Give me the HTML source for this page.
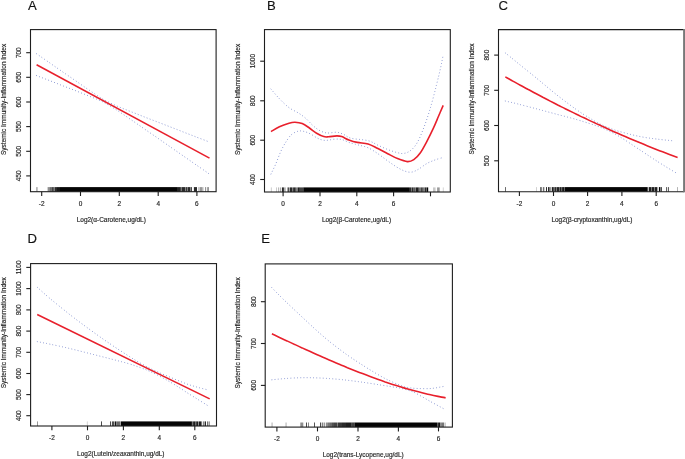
<!DOCTYPE html>
<html><head><meta charset="utf-8"><title>Chart</title>
<style>
html,body{margin:0;padding:0;background:#fff;}
body{width:685px;height:459px;overflow:hidden;}
svg{display:block;font-family:"Liberation Sans",sans-serif;}
text{stroke:#2a2a2a;stroke-width:0.18px;}
</style></head><body>
<svg width="685" height="459" viewBox="0 0 685 459">
<rect width="685" height="459" fill="#fff"/>
<g opacity="0.999">
<rect x="36.6" y="187.1" width="0.7" height="4.6" fill="#050505" fill-opacity="0.75"/>
<rect x="47.6" y="187.1" width="1.9" height="4.6" fill="#050505" fill-opacity="0.45"/>
<rect x="49.5" y="187.1" width="2.0" height="4.6" fill="#050505" fill-opacity="0.6"/>
<rect x="51.5" y="187.1" width="2.3" height="4.6" fill="#050505" fill-opacity="0.75"/>
<rect x="53.8" y="187.1" width="0.8" height="4.6" fill="#050505" fill-opacity="0.45"/>
<rect x="54.6" y="187.1" width="2.4" height="4.6" fill="#050505" fill-opacity="0.85"/>
<rect x="57.0" y="187.1" width="3.0" height="4.6" fill="#050505" fill-opacity="0.93"/>
<rect x="60.0" y="187.1" width="117.0" height="4.6" fill="#050505" fill-opacity="1"/>
<rect x="177.0" y="187.1" width="3.8" height="4.6" fill="#050505" fill-opacity="0.88"/>
<rect x="180.8" y="187.1" width="1.0" height="4.6" fill="#050505" fill-opacity="0.55"/>
<rect x="181.8" y="187.1" width="3.4" height="4.6" fill="#050505" fill-opacity="0.85"/>
<rect x="185.2" y="187.1" width="0.6" height="4.6" fill="#050505" fill-opacity="0.45"/>
<rect x="185.8" y="187.1" width="1.5" height="4.6" fill="#050505" fill-opacity="0.8"/>
<rect x="187.3" y="187.1" width="0.5" height="4.6" fill="#050505" fill-opacity="0.45"/>
<rect x="187.8" y="187.1" width="2.5" height="4.6" fill="#050505" fill-opacity="0.85"/>
<rect x="190.3" y="187.1" width="0.6" height="4.6" fill="#050505" fill-opacity="0.4"/>
<rect x="190.9" y="187.1" width="1.0" height="4.6" fill="#050505" fill-opacity="0.8"/>
<rect x="193.9" y="187.1" width="3.1" height="4.6" fill="#050505" fill-opacity="0.85"/>
<rect x="198.7" y="187.1" width="0.6" height="4.6" fill="#050505" fill-opacity="0.7"/>
<rect x="200.0" y="187.1" width="0.6" height="4.6" fill="#050505" fill-opacity="0.7"/>
<rect x="201.3" y="187.1" width="0.6" height="4.6" fill="#050505" fill-opacity="0.7"/>
<rect x="202.6" y="187.1" width="0.6" height="4.6" fill="#050505" fill-opacity="0.7"/>
<rect x="205.4" y="187.1" width="0.6" height="4.6" fill="#050505" fill-opacity="0.7"/>
<rect x="206.9" y="187.1" width="0.6" height="4.6" fill="#050505" fill-opacity="0.7"/>
<rect x="208.1" y="187.1" width="0.6" height="4.6" fill="#050505" fill-opacity="0.7"/>
<path d="M36.6,53.8 C38.8,55.3 45.4,59.9 49.9,63.0 C54.3,66.1 58.7,69.1 63.1,72.2 C67.5,75.2 72.0,78.3 76.4,81.3 C80.8,84.4 85.2,87.5 89.6,90.4 C94.1,93.4 98.5,96.6 102.9,99.1 C107.3,101.6 111.7,103.7 116.2,105.7 C120.6,107.7 125.0,109.3 129.4,111.1 C133.9,112.8 138.3,114.5 142.7,116.3 C147.1,118.0 151.5,119.7 156.0,121.4 C160.4,123.1 164.8,124.8 169.2,126.5 C173.6,128.2 178.1,129.9 182.5,131.7 C186.9,133.4 191.3,135.1 195.7,136.8 C200.2,138.5 206.8,141.0 209.0,141.9" fill="none" stroke="#5064bc" stroke-width="1.0" stroke-opacity="0.8" stroke-dasharray="0.01 3.2" stroke-linecap="round"/>
<path d="M36.6,75.6 C38.8,76.5 45.4,79.0 49.9,80.7 C54.3,82.4 58.7,84.2 63.1,85.9 C67.5,87.6 72.0,89.3 76.4,91.0 C80.8,92.8 85.2,94.5 89.6,96.3 C94.1,98.1 98.5,99.7 102.9,101.9 C107.3,104.2 111.7,106.9 116.2,109.7 C120.6,112.5 125.0,115.6 129.4,118.6 C133.9,121.6 138.3,124.7 142.7,127.8 C147.1,130.8 151.5,133.9 156.0,136.9 C160.4,140.0 164.8,143.1 169.2,146.1 C173.6,149.2 178.1,152.3 182.5,155.4 C186.9,158.4 191.3,161.5 195.7,164.6 C200.2,167.6 206.8,172.2 209.0,173.8" fill="none" stroke="#5064bc" stroke-width="1.0" stroke-opacity="0.8" stroke-dasharray="0.01 3.2" stroke-linecap="round"/>
<path d="M36.6,64.7 L209.5,158.1" fill="none" stroke="#e8202c" stroke-width="1.6" stroke-linecap="butt"/>
<rect x="30.5" y="29.6" width="185.6" height="162.1" fill="none" stroke="#1e1e1e" stroke-width="1.1"/>
<line x1="26.2" y1="52.7" x2="30.5" y2="52.7" stroke="#1e1e1e" stroke-width="1.1"/>
<text transform="translate(20.9,52.7) rotate(-90)" text-anchor="middle" font-size="6.45" fill="#2a2a2a">700</text>
<line x1="26.2" y1="77.3" x2="30.5" y2="77.3" stroke="#1e1e1e" stroke-width="1.1"/>
<text transform="translate(20.9,77.3) rotate(-90)" text-anchor="middle" font-size="6.45" fill="#2a2a2a">650</text>
<line x1="26.2" y1="102" x2="30.5" y2="102" stroke="#1e1e1e" stroke-width="1.1"/>
<text transform="translate(20.9,102) rotate(-90)" text-anchor="middle" font-size="6.45" fill="#2a2a2a">600</text>
<line x1="26.2" y1="126.6" x2="30.5" y2="126.6" stroke="#1e1e1e" stroke-width="1.1"/>
<text transform="translate(20.9,126.6) rotate(-90)" text-anchor="middle" font-size="6.45" fill="#2a2a2a">550</text>
<line x1="26.2" y1="151.3" x2="30.5" y2="151.3" stroke="#1e1e1e" stroke-width="1.1"/>
<text transform="translate(20.9,151.3) rotate(-90)" text-anchor="middle" font-size="6.45" fill="#2a2a2a">500</text>
<line x1="26.2" y1="175.9" x2="30.5" y2="175.9" stroke="#1e1e1e" stroke-width="1.1"/>
<text transform="translate(20.9,175.9) rotate(-90)" text-anchor="middle" font-size="6.45" fill="#2a2a2a">450</text>
<line x1="41.7" y1="191.7" x2="41.7" y2="196.0" stroke="#1e1e1e" stroke-width="1.1"/>
<text x="41.7" y="205.8" text-anchor="middle" font-size="6.45" fill="#2a2a2a">-2</text>
<line x1="80.5" y1="191.7" x2="80.5" y2="196.0" stroke="#1e1e1e" stroke-width="1.1"/>
<text x="80.5" y="205.8" text-anchor="middle" font-size="6.45" fill="#2a2a2a">0</text>
<line x1="119.3" y1="191.7" x2="119.3" y2="196.0" stroke="#1e1e1e" stroke-width="1.1"/>
<text x="119.3" y="205.8" text-anchor="middle" font-size="6.45" fill="#2a2a2a">2</text>
<line x1="158.2" y1="191.7" x2="158.2" y2="196.0" stroke="#1e1e1e" stroke-width="1.1"/>
<text x="158.2" y="205.8" text-anchor="middle" font-size="6.45" fill="#2a2a2a">4</text>
<line x1="196.9" y1="191.7" x2="196.9" y2="196.0" stroke="#1e1e1e" stroke-width="1.1"/>
<text x="196.9" y="205.8" text-anchor="middle" font-size="6.45" fill="#2a2a2a">6</text>
<text x="111.3" y="221.6" text-anchor="middle" font-size="6.47" fill="#2a2a2a">Log2(α-Carotene,ug/dL)</text>
<text transform="translate(5.5,99.4) rotate(-90)" text-anchor="middle" font-size="6.47" fill="#2a2a2a">Systemic Immunity-Inflammation Index</text>
<text x="28.0" y="10.1" font-size="13.1" fill="#111" stroke="none">A</text>
<rect x="270.9" y="187.4" width="0.6" height="4.6" fill="#050505" fill-opacity="0.35"/>
<rect x="276.0" y="187.4" width="0.6" height="4.6" fill="#050505" fill-opacity="0.35"/>
<rect x="278.5" y="187.4" width="0.6" height="4.6" fill="#050505" fill-opacity="0.55"/>
<rect x="280.0" y="187.4" width="0.6" height="4.6" fill="#050505" fill-opacity="0.55"/>
<rect x="281.9" y="187.4" width="2.0" height="4.6" fill="#050505" fill-opacity="0.85"/>
<rect x="284.4" y="187.4" width="1.1" height="4.6" fill="#050505" fill-opacity="0.5"/>
<rect x="287.5" y="187.4" width="2.0" height="4.6" fill="#050505" fill-opacity="0.7"/>
<rect x="290.0" y="187.4" width="2.6" height="4.6" fill="#050505" fill-opacity="0.85"/>
<rect x="293.1" y="187.4" width="2.6" height="4.6" fill="#050505" fill-opacity="0.85"/>
<rect x="295.7" y="187.4" width="2.0" height="4.6" fill="#050505" fill-opacity="0.5"/>
<rect x="297.7" y="187.4" width="2.1" height="4.6" fill="#050505" fill-opacity="0.9"/>
<rect x="299.8" y="187.4" width="3.5" height="4.6" fill="#050505" fill-opacity="0.75"/>
<rect x="303.3" y="187.4" width="105.7" height="4.6" fill="#050505" fill-opacity="1"/>
<rect x="409.0" y="187.4" width="2.0" height="4.6" fill="#050505" fill-opacity="0.85"/>
<rect x="411.0" y="187.4" width="0.6" height="4.6" fill="#050505" fill-opacity="0.5"/>
<rect x="411.6" y="187.4" width="2.0" height="4.6" fill="#050505" fill-opacity="0.85"/>
<rect x="413.6" y="187.4" width="0.6" height="4.6" fill="#050505" fill-opacity="0.5"/>
<rect x="414.2" y="187.4" width="0.8" height="4.6" fill="#050505" fill-opacity="0.8"/>
<rect x="415.0" y="187.4" width="0.7" height="4.6" fill="#050505" fill-opacity="0.5"/>
<rect x="415.7" y="187.4" width="3.0" height="4.6" fill="#050505" fill-opacity="0.9"/>
<rect x="418.7" y="187.4" width="2.1" height="4.6" fill="#050505" fill-opacity="0.55"/>
<rect x="420.8" y="187.4" width="2.0" height="4.6" fill="#050505" fill-opacity="0.75"/>
<rect x="422.8" y="187.4" width="0.6" height="4.6" fill="#050505" fill-opacity="0.5"/>
<rect x="423.4" y="187.4" width="0.9" height="4.6" fill="#050505" fill-opacity="0.7"/>
<rect x="424.3" y="187.4" width="0.6" height="4.6" fill="#050505" fill-opacity="0.5"/>
<rect x="424.9" y="187.4" width="1.7" height="4.6" fill="#050505" fill-opacity="0.85"/>
<rect x="426.8" y="187.4" width="1.4" height="4.6" fill="#050505" fill-opacity="1"/>
<rect x="433.0" y="187.4" width="2.6" height="4.6" fill="#050505" fill-opacity="0.22"/>
<rect x="437.1" y="187.4" width="2.6" height="4.6" fill="#050505" fill-opacity="0.4"/>
<rect x="442.8" y="187.4" width="0.9" height="4.6" fill="#050505" fill-opacity="0.2"/>
<path d="M271.0,89.1 C272.4,90.7 276.4,95.6 279.4,98.7 C282.4,101.8 285.8,105.2 289.0,107.6 C292.2,110.0 295.8,111.3 298.6,113.1 C301.4,114.9 303.4,116.3 305.8,118.4 C308.2,120.5 310.6,123.5 313.0,125.6 C315.4,127.7 317.8,129.6 320.2,130.8 C322.6,132.0 324.6,132.8 327.4,133.0 C330.2,133.2 334.2,132.0 337.0,132.3 C339.8,132.6 341.7,133.7 344.1,134.7 C346.5,135.7 347.3,137.3 351.3,138.3 C355.3,139.3 363.7,139.5 368.1,140.7 C372.5,141.8 374.6,143.7 377.9,145.2 C381.2,146.7 384.4,148.2 387.7,149.5 C391.0,150.8 394.8,152.0 397.5,152.7 C400.2,153.3 401.8,153.8 404.0,153.4 C406.2,153.0 408.4,152.2 410.6,150.5 C412.8,148.8 414.9,146.6 417.1,142.9 C419.3,139.2 421.4,133.9 423.6,128.2 C425.8,122.5 428.0,115.9 430.2,108.6 C432.4,101.2 435.0,90.9 436.7,84.1 C438.4,77.3 439.5,72.7 440.6,67.8 C441.7,62.9 442.8,56.9 443.2,54.7" fill="none" stroke="#5064bc" stroke-width="1.0" stroke-opacity="0.8" stroke-dasharray="0.01 3.2" stroke-linecap="round"/>
<path d="M271.0,174.0 C271.8,172.3 274.2,167.6 275.8,163.9 C277.4,160.2 279.0,155.4 280.6,151.9 C282.2,148.4 283.6,145.7 285.4,142.8 C287.2,139.9 289.2,136.6 291.4,134.7 C293.6,132.8 296.4,131.6 298.6,131.1 C300.8,130.6 302.6,131.1 304.6,131.6 C306.6,132.1 308.4,132.9 310.6,134.0 C312.8,135.1 315.4,137.2 317.8,138.3 C320.2,139.4 322.2,140.2 325.0,140.4 C327.8,140.6 331.7,139.3 334.5,139.2 C337.3,139.0 339.3,139.0 341.7,139.5 C344.1,140.0 346.3,141.5 348.9,142.4 C351.5,143.3 354.1,143.8 357.3,144.7 C360.5,145.6 364.7,146.3 368.1,147.8 C371.5,149.3 374.6,151.5 377.9,153.7 C381.2,155.9 384.4,158.6 387.7,160.9 C391.0,163.2 394.5,165.8 397.5,167.5 C400.5,169.2 403.2,170.7 405.7,171.4 C408.1,172.2 410.0,172.4 412.2,172.0 C414.4,171.6 416.2,170.5 418.7,169.1 C421.1,167.7 424.2,165.0 426.9,163.5 C429.6,162.0 432.5,160.9 435.1,159.9 C437.7,158.9 441.4,158.0 442.6,157.6" fill="none" stroke="#5064bc" stroke-width="1.0" stroke-opacity="0.8" stroke-dasharray="0.01 3.2" stroke-linecap="round"/>
<path d="M271.0,131.6 C272.4,130.8 276.4,128.2 279.4,126.8 C282.4,125.4 286.4,124.0 289.0,123.2 C291.6,122.4 292.8,122.1 295.0,122.2 C297.2,122.3 299.8,122.6 302.2,123.6 C304.6,124.6 307.0,126.4 309.4,128.0 C311.8,129.6 314.2,131.8 316.6,133.2 C319.0,134.6 321.8,136.0 323.8,136.6 C325.8,137.2 326.3,136.9 328.5,136.8 C330.7,136.7 334.8,135.9 337.0,135.9 C339.2,135.9 339.7,135.9 341.7,136.6 C343.7,137.3 346.3,139.0 348.9,140.0 C351.5,141.0 354.1,141.8 357.3,142.4 C360.5,143.1 364.7,142.9 368.1,143.9 C371.5,144.9 374.6,146.9 377.9,148.5 C381.2,150.1 384.4,152.0 387.7,153.7 C391.0,155.4 394.2,157.3 397.5,158.6 C400.8,159.9 404.6,161.4 407.3,161.6 C410.0,161.8 411.6,161.1 413.8,159.6 C416.0,158.1 418.2,155.8 420.4,152.7 C422.6,149.6 424.7,145.4 426.9,141.3 C429.1,137.2 431.5,132.3 433.4,128.2 C435.3,124.1 436.7,120.6 438.3,116.8 C439.9,113.0 442.4,107.3 443.2,105.4" fill="none" stroke="#e8202c" stroke-width="1.6" stroke-linecap="butt"/>
<rect x="264.5" y="29.6" width="185.8" height="162.4" fill="none" stroke="#1e1e1e" stroke-width="1.1"/>
<line x1="260.2" y1="61.2" x2="264.5" y2="61.2" stroke="#1e1e1e" stroke-width="1.1"/>
<text transform="translate(254.9,61.2) rotate(-90)" text-anchor="middle" font-size="6.45" fill="#2a2a2a">1000</text>
<line x1="260.2" y1="100.8" x2="264.5" y2="100.8" stroke="#1e1e1e" stroke-width="1.1"/>
<text transform="translate(254.9,100.8) rotate(-90)" text-anchor="middle" font-size="6.45" fill="#2a2a2a">800</text>
<line x1="260.2" y1="140.2" x2="264.5" y2="140.2" stroke="#1e1e1e" stroke-width="1.1"/>
<text transform="translate(254.9,140.2) rotate(-90)" text-anchor="middle" font-size="6.45" fill="#2a2a2a">600</text>
<line x1="260.2" y1="179.5" x2="264.5" y2="179.5" stroke="#1e1e1e" stroke-width="1.1"/>
<text transform="translate(254.9,179.5) rotate(-90)" text-anchor="middle" font-size="6.45" fill="#2a2a2a">400</text>
<line x1="283.1" y1="192.0" x2="283.1" y2="196.3" stroke="#1e1e1e" stroke-width="1.1"/>
<text x="283.1" y="206.1" text-anchor="middle" font-size="6.45" fill="#2a2a2a">0</text>
<line x1="320" y1="192.0" x2="320" y2="196.3" stroke="#1e1e1e" stroke-width="1.1"/>
<text x="320" y="206.1" text-anchor="middle" font-size="6.45" fill="#2a2a2a">2</text>
<line x1="356.8" y1="192.0" x2="356.8" y2="196.3" stroke="#1e1e1e" stroke-width="1.1"/>
<text x="356.8" y="206.1" text-anchor="middle" font-size="6.45" fill="#2a2a2a">4</text>
<line x1="393.6" y1="192.0" x2="393.6" y2="196.3" stroke="#1e1e1e" stroke-width="1.1"/>
<text x="393.6" y="206.1" text-anchor="middle" font-size="6.45" fill="#2a2a2a">6</text>
<line x1="430.5" y1="192.0" x2="430.5" y2="196.3" stroke="#1e1e1e" stroke-width="1.1"/>
<text x="356.5" y="221.9" text-anchor="middle" font-size="6.47" fill="#2a2a2a">Log2(β-Carotene,ug/dL)</text>
<text transform="translate(239.5,99.4) rotate(-90)" text-anchor="middle" font-size="6.47" fill="#2a2a2a">Systemic Immunity-Inflammation Index</text>
<text x="267.0" y="10.1" font-size="13.1" fill="#111" stroke="none">B</text>
<rect x="505.0" y="187.1" width="0.8" height="4.6" fill="#050505" fill-opacity="0.75"/>
<rect x="536.0" y="187.1" width="0.6" height="4.6" fill="#050505" fill-opacity="0.3"/>
<rect x="540.1" y="187.1" width="0.7" height="4.6" fill="#050505" fill-opacity="0.8"/>
<rect x="541.4" y="187.1" width="0.7" height="4.6" fill="#050505" fill-opacity="0.8"/>
<rect x="543.0" y="187.1" width="0.7" height="4.6" fill="#050505" fill-opacity="0.8"/>
<rect x="544.3" y="187.1" width="0.5" height="4.6" fill="#050505" fill-opacity="0.4"/>
<rect x="546.0" y="187.1" width="1.0" height="4.6" fill="#050505" fill-opacity="0.85"/>
<rect x="548.0" y="187.1" width="1.6" height="4.6" fill="#050505" fill-opacity="0.85"/>
<rect x="550.0" y="187.1" width="1.5" height="4.6" fill="#050505" fill-opacity="0.4"/>
<rect x="552.1" y="187.1" width="1.6" height="4.6" fill="#050505" fill-opacity="1"/>
<rect x="554.3" y="187.1" width="2.1" height="4.6" fill="#050505" fill-opacity="0.85"/>
<rect x="556.4" y="187.1" width="0.6" height="4.6" fill="#050505" fill-opacity="0.5"/>
<rect x="557.0" y="187.1" width="2.0" height="4.6" fill="#050505" fill-opacity="0.88"/>
<rect x="559.0" y="187.1" width="0.6" height="4.6" fill="#050505" fill-opacity="0.55"/>
<rect x="559.6" y="187.1" width="1.9" height="4.6" fill="#050505" fill-opacity="0.9"/>
<rect x="561.5" y="187.1" width="0.6" height="4.6" fill="#050505" fill-opacity="0.6"/>
<rect x="562.1" y="187.1" width="2.0" height="4.6" fill="#050505" fill-opacity="0.93"/>
<rect x="564.1" y="187.1" width="0.6" height="4.6" fill="#050505" fill-opacity="0.7"/>
<rect x="564.7" y="187.1" width="83.0" height="4.6" fill="#050505" fill-opacity="1"/>
<rect x="648.7" y="187.1" width="2.6" height="4.6" fill="#050505" fill-opacity="0.9"/>
<rect x="651.3" y="187.1" width="0.7" height="4.6" fill="#050505" fill-opacity="0.55"/>
<rect x="652.0" y="187.1" width="2.3" height="4.6" fill="#050505" fill-opacity="0.9"/>
<rect x="654.3" y="187.1" width="0.7" height="4.6" fill="#050505" fill-opacity="0.5"/>
<rect x="655.0" y="187.1" width="2.4" height="4.6" fill="#050505" fill-opacity="0.9"/>
<rect x="658.9" y="187.1" width="1.6" height="4.6" fill="#050505" fill-opacity="1"/>
<rect x="661.0" y="187.1" width="0.8" height="4.6" fill="#050505" fill-opacity="0.9"/>
<rect x="666.0" y="187.1" width="0.7" height="4.6" fill="#050505" fill-opacity="0.9"/>
<rect x="667.9" y="187.1" width="0.8" height="4.6" fill="#050505" fill-opacity="0.9"/>
<rect x="677.1" y="187.1" width="0.6" height="4.6" fill="#050505" fill-opacity="0.5"/>
<path d="M505.3,52.9 C507.4,54.5 512.3,58.6 517.6,62.9 C522.9,67.2 530.7,73.4 537.2,78.7 C543.7,84.1 550.3,89.7 556.8,94.9 C563.3,100.0 570.9,105.7 576.4,109.6 C581.9,113.5 586.2,116.0 590.0,118.3 C593.8,120.6 596.2,122.1 599.2,123.6 C602.2,125.1 604.7,126.2 608.0,127.5 C611.3,128.8 613.7,129.8 618.8,131.3 C623.9,132.7 631.9,134.9 638.4,136.2 C644.9,137.6 652.0,138.5 658.0,139.2 C664.0,140.0 671.9,140.7 674.7,140.9" fill="none" stroke="#5064bc" stroke-width="1.0" stroke-opacity="0.8" stroke-dasharray="0.01 3.2" stroke-linecap="round"/>
<path d="M505.3,101.0 C507.4,101.5 512.3,102.6 517.6,103.9 C522.9,105.3 530.7,107.3 537.2,109.0 C543.7,110.8 550.3,112.5 556.8,114.3 C563.3,116.0 570.9,117.9 576.4,119.5 C581.9,121.1 586.2,122.5 590.0,123.7 C593.8,124.9 596.2,125.6 599.2,126.8 C602.2,127.9 604.7,129.0 608.0,130.6 C611.3,132.1 613.7,133.1 618.8,136.2 C623.9,139.2 631.9,144.6 638.4,148.9 C644.9,153.2 651.5,157.7 658.0,161.8 C664.5,166.0 674.3,171.8 677.6,173.8" fill="none" stroke="#5064bc" stroke-width="1.0" stroke-opacity="0.8" stroke-dasharray="0.01 3.2" stroke-linecap="round"/>
<path d="M505.3,76.9 C506.5,77.6 510.3,79.7 512.8,81.1 C515.3,82.5 517.8,83.8 520.3,85.2 C522.8,86.6 525.3,87.9 527.8,89.3 C530.3,90.6 532.8,92.0 535.3,93.3 C537.8,94.6 540.3,95.9 542.8,97.3 C545.3,98.6 547.8,99.9 550.2,101.1 C552.7,102.4 555.2,103.7 557.7,105.0 C560.2,106.2 562.7,107.5 565.2,108.7 C567.7,110.0 570.2,111.2 572.7,112.4 C575.2,113.6 577.7,114.9 580.2,116.1 C582.7,117.3 585.2,118.4 587.7,119.6 C590.2,120.8 592.7,122.0 595.2,123.1 C597.7,124.3 600.2,125.4 602.7,126.6 C605.2,127.7 607.7,128.8 610.2,130.0 C612.7,131.1 615.2,132.2 617.7,133.3 C620.2,134.4 622.7,135.5 625.2,136.5 C627.7,137.6 630.2,138.7 632.7,139.7 C635.1,140.8 637.6,141.8 640.1,142.8 C642.6,143.9 645.1,144.9 647.6,145.9 C650.1,146.9 652.6,147.9 655.1,148.9 C657.6,149.9 660.1,150.9 662.6,151.8 C665.1,152.8 667.6,153.8 670.1,154.7 C672.6,155.7 676.4,157.1 677.6,157.5" fill="none" stroke="#e8202c" stroke-width="1.6" stroke-linecap="butt"/>
<path d="M684.2,29.6 L498.5,29.6 L498.5,191.7 L684.2,191.7" fill="none" stroke="#1e1e1e" stroke-width="1.1"/>
<rect x="683.1" y="29.05" width="1.9" height="163.20" fill="#787878"/>
<line x1="494.2" y1="55.1" x2="498.5" y2="55.1" stroke="#1e1e1e" stroke-width="1.1"/>
<text transform="translate(488.9,55.1) rotate(-90)" text-anchor="middle" font-size="6.45" fill="#2a2a2a">800</text>
<line x1="494.2" y1="90.3" x2="498.5" y2="90.3" stroke="#1e1e1e" stroke-width="1.1"/>
<text transform="translate(488.9,90.3) rotate(-90)" text-anchor="middle" font-size="6.45" fill="#2a2a2a">700</text>
<line x1="494.2" y1="125.5" x2="498.5" y2="125.5" stroke="#1e1e1e" stroke-width="1.1"/>
<text transform="translate(488.9,125.5) rotate(-90)" text-anchor="middle" font-size="6.45" fill="#2a2a2a">600</text>
<line x1="494.2" y1="160.8" x2="498.5" y2="160.8" stroke="#1e1e1e" stroke-width="1.1"/>
<text transform="translate(488.9,160.8) rotate(-90)" text-anchor="middle" font-size="6.45" fill="#2a2a2a">500</text>
<line x1="519.4" y1="191.7" x2="519.4" y2="196.0" stroke="#1e1e1e" stroke-width="1.1"/>
<text x="519.4" y="205.8" text-anchor="middle" font-size="6.45" fill="#2a2a2a">-2</text>
<line x1="553.5" y1="191.7" x2="553.5" y2="196.0" stroke="#1e1e1e" stroke-width="1.1"/>
<text x="553.5" y="205.8" text-anchor="middle" font-size="6.45" fill="#2a2a2a">0</text>
<line x1="587.6" y1="191.7" x2="587.6" y2="196.0" stroke="#1e1e1e" stroke-width="1.1"/>
<text x="587.6" y="205.8" text-anchor="middle" font-size="6.45" fill="#2a2a2a">2</text>
<line x1="621.9" y1="191.7" x2="621.9" y2="196.0" stroke="#1e1e1e" stroke-width="1.1"/>
<text x="621.9" y="205.8" text-anchor="middle" font-size="6.45" fill="#2a2a2a">4</text>
<line x1="656.2" y1="191.7" x2="656.2" y2="196.0" stroke="#1e1e1e" stroke-width="1.1"/>
<text x="656.2" y="205.8" text-anchor="middle" font-size="6.45" fill="#2a2a2a">6</text>
<text x="591.9" y="221.6" text-anchor="middle" font-size="6.47" fill="#2a2a2a">Log2(β-cryptoxanthin,ug/dL)</text>
<text transform="translate(473.5,99.0) rotate(-90)" text-anchor="middle" font-size="6.47" fill="#2a2a2a">Systemic Immunity-Inflammation Index</text>
<text x="498.4" y="10.1" font-size="13.1" fill="#111" stroke="none">C</text>
<rect x="37.0" y="421.4" width="0.7" height="4.6" fill="#050505" fill-opacity="0.6"/>
<rect x="86.9" y="421.4" width="0.6" height="4.6" fill="#050505" fill-opacity="0.3"/>
<rect x="101.0" y="421.4" width="0.8" height="4.6" fill="#050505" fill-opacity="0.9"/>
<rect x="110.2" y="421.4" width="0.8" height="4.6" fill="#050505" fill-opacity="0.9"/>
<rect x="111.9" y="421.4" width="2.5" height="4.6" fill="#050505" fill-opacity="0.7"/>
<rect x="114.9" y="421.4" width="1.5" height="4.6" fill="#050505" fill-opacity="0.95"/>
<rect x="116.7" y="421.4" width="2.8" height="4.6" fill="#050505" fill-opacity="0.6"/>
<rect x="119.5" y="421.4" width="0.7" height="4.6" fill="#050505" fill-opacity="0.8"/>
<rect x="120.6" y="421.4" width="0.4" height="4.6" fill="#050505" fill-opacity="0.6"/>
<rect x="121.0" y="421.4" width="70.9" height="4.6" fill="#050505" fill-opacity="1"/>
<rect x="191.9" y="421.4" width="0.5" height="4.6" fill="#050505" fill-opacity="0.85"/>
<rect x="192.4" y="421.4" width="0.6" height="4.6" fill="#050505" fill-opacity="0.55"/>
<rect x="193.1" y="421.4" width="2.4" height="4.6" fill="#050505" fill-opacity="0.9"/>
<rect x="195.5" y="421.4" width="0.7" height="4.6" fill="#050505" fill-opacity="0.5"/>
<rect x="196.2" y="421.4" width="1.8" height="4.6" fill="#050505" fill-opacity="0.9"/>
<rect x="198.0" y="421.4" width="1.0" height="4.6" fill="#050505" fill-opacity="0.45"/>
<rect x="199.0" y="421.4" width="2.6" height="4.6" fill="#050505" fill-opacity="0.9"/>
<rect x="202.9" y="421.4" width="0.7" height="4.6" fill="#050505" fill-opacity="0.8"/>
<rect x="204.6" y="421.4" width="1.4" height="4.6" fill="#050505" fill-opacity="0.85"/>
<rect x="207.0" y="421.4" width="0.7" height="4.6" fill="#050505" fill-opacity="0.8"/>
<rect x="208.7" y="421.4" width="0.8" height="4.6" fill="#050505" fill-opacity="0.8"/>
<path d="M37.3,287.2 C39.3,289.1 44.3,293.7 49.6,298.2 C54.9,302.6 62.7,308.9 69.2,314.1 C75.7,319.2 82.3,324.1 88.8,328.8 C95.3,333.6 101.9,338.3 108.4,342.7 C114.9,347.2 122.8,352.3 128.0,355.6 C133.2,359.0 136.1,360.7 139.8,362.8 C143.5,364.9 146.6,366.6 150.0,368.3 C153.4,370.0 156.9,371.6 160.0,373.0 C163.1,374.4 165.4,375.2 168.4,376.5 C171.4,377.7 174.7,379.2 178.0,380.5 C181.3,381.8 184.7,383.2 188.0,384.4 C191.3,385.5 194.6,386.4 198.0,387.4 C201.4,388.3 206.8,389.6 208.6,390.1" fill="none" stroke="#5064bc" stroke-width="1.0" stroke-opacity="0.8" stroke-dasharray="0.01 3.2" stroke-linecap="round"/>
<path d="M37.3,341.6 C39.3,342.1 44.3,342.9 49.6,344.1 C54.9,345.2 62.7,346.8 69.2,348.4 C75.7,349.9 82.3,351.7 88.8,353.3 C95.3,355.0 101.9,356.6 108.4,358.3 C114.9,360.0 122.8,362.0 128.0,363.5 C133.2,365.0 136.3,366.2 139.8,367.4 C143.3,368.6 145.8,369.6 148.8,370.9 C151.8,372.2 154.7,373.6 158.0,375.3 C161.3,377.0 165.1,379.1 168.4,381.0 C171.7,382.9 174.7,384.7 178.0,386.8 C181.3,388.8 184.7,391.2 188.0,393.3 C191.3,395.4 194.6,397.3 198.0,399.5 C201.4,401.6 206.8,405.0 208.6,406.1" fill="none" stroke="#5064bc" stroke-width="1.0" stroke-opacity="0.8" stroke-dasharray="0.01 3.2" stroke-linecap="round"/>
<path d="M37.2,314.5 L209.7,398.9" fill="none" stroke="#e8202c" stroke-width="1.6" stroke-linecap="butt"/>
<rect x="30.6" y="263.6" width="185.9" height="162.4" fill="none" stroke="#1e1e1e" stroke-width="1.1"/>
<line x1="26.3" y1="267.4" x2="30.6" y2="267.4" stroke="#1e1e1e" stroke-width="1.1"/>
<text transform="translate(21.0,267.4) rotate(-90)" text-anchor="middle" font-size="6.45" fill="#2a2a2a">1100</text>
<line x1="26.3" y1="288.6" x2="30.6" y2="288.6" stroke="#1e1e1e" stroke-width="1.1"/>
<text transform="translate(21.0,288.6) rotate(-90)" text-anchor="middle" font-size="6.45" fill="#2a2a2a">1000</text>
<line x1="26.3" y1="309.9" x2="30.6" y2="309.9" stroke="#1e1e1e" stroke-width="1.1"/>
<text transform="translate(21.0,309.9) rotate(-90)" text-anchor="middle" font-size="6.45" fill="#2a2a2a">900</text>
<line x1="26.3" y1="331.1" x2="30.6" y2="331.1" stroke="#1e1e1e" stroke-width="1.1"/>
<text transform="translate(21.0,331.1) rotate(-90)" text-anchor="middle" font-size="6.45" fill="#2a2a2a">800</text>
<line x1="26.3" y1="352.3" x2="30.6" y2="352.3" stroke="#1e1e1e" stroke-width="1.1"/>
<text transform="translate(21.0,352.3) rotate(-90)" text-anchor="middle" font-size="6.45" fill="#2a2a2a">700</text>
<line x1="26.3" y1="373.5" x2="30.6" y2="373.5" stroke="#1e1e1e" stroke-width="1.1"/>
<text transform="translate(21.0,373.5) rotate(-90)" text-anchor="middle" font-size="6.45" fill="#2a2a2a">600</text>
<line x1="26.3" y1="394.6" x2="30.6" y2="394.6" stroke="#1e1e1e" stroke-width="1.1"/>
<text transform="translate(21.0,394.6) rotate(-90)" text-anchor="middle" font-size="6.45" fill="#2a2a2a">500</text>
<line x1="26.3" y1="415.7" x2="30.6" y2="415.7" stroke="#1e1e1e" stroke-width="1.1"/>
<text transform="translate(21.0,415.7) rotate(-90)" text-anchor="middle" font-size="6.45" fill="#2a2a2a">400</text>
<line x1="51.9" y1="426.0" x2="51.9" y2="430.3" stroke="#1e1e1e" stroke-width="1.1"/>
<text x="51.9" y="440.1" text-anchor="middle" font-size="6.45" fill="#2a2a2a">-2</text>
<line x1="87.5" y1="426.0" x2="87.5" y2="430.3" stroke="#1e1e1e" stroke-width="1.1"/>
<text x="87.5" y="440.1" text-anchor="middle" font-size="6.45" fill="#2a2a2a">0</text>
<line x1="123.4" y1="426.0" x2="123.4" y2="430.3" stroke="#1e1e1e" stroke-width="1.1"/>
<text x="123.4" y="440.1" text-anchor="middle" font-size="6.45" fill="#2a2a2a">2</text>
<line x1="159.3" y1="426.0" x2="159.3" y2="430.3" stroke="#1e1e1e" stroke-width="1.1"/>
<text x="159.3" y="440.1" text-anchor="middle" font-size="6.45" fill="#2a2a2a">4</text>
<line x1="194.8" y1="426.0" x2="194.8" y2="430.3" stroke="#1e1e1e" stroke-width="1.1"/>
<text x="194.8" y="440.1" text-anchor="middle" font-size="6.45" fill="#2a2a2a">6</text>
<text x="120.8" y="455.9" text-anchor="middle" font-size="6.47" fill="#2a2a2a">Log2(Lutein/zeaxanthin,ug/dL)</text>
<text transform="translate(5.6,332.7) rotate(-90)" text-anchor="middle" font-size="6.47" fill="#2a2a2a">Systemic Immunity-Inflammation Index</text>
<text x="27.6" y="243.1" font-size="13.1" fill="#111" stroke="none">D</text>
<rect x="271.2" y="422.5" width="1.8" height="4.6" fill="#050505" fill-opacity="0.18"/>
<rect x="285.2" y="422.5" width="1.8" height="4.6" fill="#050505" fill-opacity="0.18"/>
<rect x="300.3" y="422.5" width="3.0" height="4.6" fill="#050505" fill-opacity="0.45"/>
<rect x="306.1" y="422.5" width="0.8" height="4.6" fill="#050505" fill-opacity="0.9"/>
<rect x="308.1" y="422.5" width="0.6" height="4.6" fill="#050505" fill-opacity="0.8"/>
<rect x="314.0" y="422.5" width="0.8" height="4.6" fill="#050505" fill-opacity="0.85"/>
<rect x="320.0" y="422.5" width="0.8" height="4.6" fill="#050505" fill-opacity="0.9"/>
<rect x="321.7" y="422.5" width="1.5" height="4.6" fill="#050505" fill-opacity="0.5"/>
<rect x="323.8" y="422.5" width="1.0" height="4.6" fill="#050505" fill-opacity="0.5"/>
<rect x="325.8" y="422.5" width="2.2" height="4.6" fill="#050505" fill-opacity="0.45"/>
<rect x="328.0" y="422.5" width="2.0" height="4.6" fill="#050505" fill-opacity="0.55"/>
<rect x="330.0" y="422.5" width="2.0" height="4.6" fill="#050505" fill-opacity="0.6"/>
<rect x="332.0" y="422.5" width="2.0" height="4.6" fill="#050505" fill-opacity="0.7"/>
<rect x="334.0" y="422.5" width="3.0" height="4.6" fill="#050505" fill-opacity="0.75"/>
<rect x="337.0" y="422.5" width="0.8" height="4.6" fill="#050505" fill-opacity="0.5"/>
<rect x="337.8" y="422.5" width="4.2" height="4.6" fill="#050505" fill-opacity="0.8"/>
<rect x="342.0" y="422.5" width="4.0" height="4.6" fill="#050505" fill-opacity="0.85"/>
<rect x="346.0" y="422.5" width="5.2" height="4.6" fill="#050505" fill-opacity="0.9"/>
<rect x="351.2" y="422.5" width="1.0" height="4.6" fill="#050505" fill-opacity="0.82"/>
<rect x="352.2" y="422.5" width="1.6" height="4.6" fill="#050505" fill-opacity="0.9"/>
<rect x="353.8" y="422.5" width="0.8" height="4.6" fill="#050505" fill-opacity="0.88"/>
<rect x="354.6" y="422.5" width="82.5" height="4.6" fill="#050505" fill-opacity="1"/>
<rect x="437.1" y="422.5" width="0.7" height="4.6" fill="#050505" fill-opacity="0.85"/>
<rect x="438.1" y="422.5" width="2.1" height="4.6" fill="#050505" fill-opacity="0.92"/>
<rect x="440.2" y="422.5" width="1.0" height="4.6" fill="#050505" fill-opacity="0.4"/>
<rect x="441.2" y="422.5" width="3.0" height="4.6" fill="#050505" fill-opacity="0.55"/>
<rect x="444.8" y="422.5" width="1.0" height="4.6" fill="#050505" fill-opacity="0.25"/>
<path d="M271.9,287.7 C274.0,289.9 279.2,295.3 284.6,300.5 C290.0,305.7 297.7,312.9 304.2,319.0 C310.7,325.0 317.3,331.3 323.8,336.8 C330.3,342.4 336.9,347.4 343.4,352.2 C349.9,357.0 356.5,361.3 363.0,365.4 C369.5,369.6 377.4,374.3 382.6,377.2 C387.8,380.1 391.4,381.5 394.4,382.9 C397.4,384.3 398.5,384.7 400.5,385.4 C402.5,386.2 404.1,386.8 406.6,387.3 C409.2,387.8 411.7,388.2 415.8,388.4 C419.9,388.6 426.5,388.8 431.1,388.5 C435.7,388.1 441.3,386.8 443.3,386.5" fill="none" stroke="#5064bc" stroke-width="1.0" stroke-opacity="0.8" stroke-dasharray="0.01 3.2" stroke-linecap="round"/>
<path d="M271.9,379.8 C274.0,379.6 279.2,379.0 284.6,378.6 C290.0,378.2 297.7,377.7 304.2,377.7 C310.7,377.6 317.3,377.9 323.8,378.2 C330.3,378.6 336.9,379.1 343.4,379.8 C349.9,380.5 356.5,381.4 363.0,382.3 C369.5,383.2 377.4,384.5 382.6,385.3 C387.8,386.1 391.4,386.7 394.4,387.2 C397.4,387.7 397.9,387.6 400.5,388.2 C403.1,388.8 407.1,389.9 409.7,390.7 C412.2,391.6 412.2,391.3 415.8,393.2 C419.4,395.1 426.3,399.2 431.1,401.9 C435.9,404.5 442.5,408.1 444.8,409.3" fill="none" stroke="#5064bc" stroke-width="1.0" stroke-opacity="0.8" stroke-dasharray="0.01 3.2" stroke-linecap="round"/>
<path d="M271.9,333.8 C273.2,334.4 276.9,336.2 279.5,337.4 C282.0,338.6 284.5,339.8 287.0,340.9 C289.5,342.1 292.0,343.3 294.6,344.4 C297.1,345.6 299.6,346.8 302.1,347.9 C304.6,349.1 307.1,350.2 309.7,351.3 C312.2,352.5 314.7,353.6 317.2,354.7 C319.7,355.8 322.2,357.0 324.8,358.1 C327.3,359.2 329.8,360.3 332.3,361.3 C334.8,362.4 337.4,363.5 339.9,364.5 C342.4,365.6 344.9,366.6 347.4,367.7 C349.9,368.7 352.5,369.7 355.0,370.7 C357.5,371.7 360.0,372.7 362.5,373.6 C365.0,374.6 367.6,375.6 370.1,376.5 C372.6,377.4 375.1,378.3 377.6,379.2 C380.1,380.1 382.7,381.0 385.2,381.9 C387.7,382.7 390.2,383.6 392.7,384.4 C395.3,385.2 397.8,386.0 400.3,386.7 C402.8,387.5 405.3,388.3 407.8,389.0 C410.4,389.7 412.9,390.4 415.4,391.1 C417.9,391.8 420.4,392.4 422.9,393.0 C425.5,393.7 428.0,394.2 430.5,394.8 C433.0,395.4 435.5,395.9 438.0,396.4 C440.6,396.9 444.3,397.6 445.6,397.9" fill="none" stroke="#e8202c" stroke-width="1.6" stroke-linecap="butt"/>
<rect x="265.2" y="263.9" width="187.2" height="163.2" fill="none" stroke="#1e1e1e" stroke-width="1.1"/>
<line x1="260.9" y1="301.7" x2="265.2" y2="301.7" stroke="#1e1e1e" stroke-width="1.1"/>
<text transform="translate(255.6,301.7) rotate(-90)" text-anchor="middle" font-size="6.45" fill="#2a2a2a">800</text>
<line x1="260.9" y1="343.5" x2="265.2" y2="343.5" stroke="#1e1e1e" stroke-width="1.1"/>
<text transform="translate(255.6,343.5) rotate(-90)" text-anchor="middle" font-size="6.45" fill="#2a2a2a">700</text>
<line x1="260.9" y1="385.4" x2="265.2" y2="385.4" stroke="#1e1e1e" stroke-width="1.1"/>
<text transform="translate(255.6,385.4) rotate(-90)" text-anchor="middle" font-size="6.45" fill="#2a2a2a">600</text>
<line x1="276.9" y1="427.1" x2="276.9" y2="431.4" stroke="#1e1e1e" stroke-width="1.1"/>
<text x="276.9" y="441.2" text-anchor="middle" font-size="6.45" fill="#2a2a2a">-2</text>
<line x1="317.5" y1="427.1" x2="317.5" y2="431.4" stroke="#1e1e1e" stroke-width="1.1"/>
<text x="317.5" y="441.2" text-anchor="middle" font-size="6.45" fill="#2a2a2a">0</text>
<line x1="358" y1="427.1" x2="358" y2="431.4" stroke="#1e1e1e" stroke-width="1.1"/>
<text x="358" y="441.2" text-anchor="middle" font-size="6.45" fill="#2a2a2a">2</text>
<line x1="398.4" y1="427.1" x2="398.4" y2="431.4" stroke="#1e1e1e" stroke-width="1.1"/>
<text x="398.4" y="441.2" text-anchor="middle" font-size="6.45" fill="#2a2a2a">4</text>
<line x1="438.5" y1="427.1" x2="438.5" y2="431.4" stroke="#1e1e1e" stroke-width="1.1"/>
<text x="438.5" y="441.2" text-anchor="middle" font-size="6.45" fill="#2a2a2a">6</text>
<text x="363.2" y="457.0" text-anchor="middle" font-size="6.47" fill="#2a2a2a">Log2(trans-Lycopene,ug/dL)</text>
<text transform="translate(240.2,332.9) rotate(-90)" text-anchor="middle" font-size="6.47" fill="#2a2a2a">Systemic Immunity-Inflammation Index</text>
<text x="261.2" y="243.1" font-size="13.1" fill="#111" stroke="none">E</text>
</g>
</svg>
</body></html>
